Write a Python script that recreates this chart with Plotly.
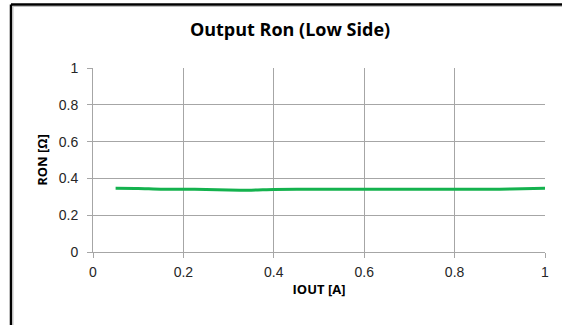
import plotly.graph_objects as go

iout = [0.05, 0.1, 0.15, 0.2, 0.25, 0.3, 0.35, 0.4, 0.5, 0.6, 0.7, 0.8, 0.9, 0.95, 1.0]
ron = [0.346, 0.345, 0.341, 0.341, 0.340, 0.337, 0.336, 0.340, 0.341, 0.341, 0.341, 0.341, 0.341, 0.344, 0.347]
x_ticks = [0, 0.2, 0.4, 0.6, 0.8, 1]
y_ticks = [0, 0.2, 0.4, 0.6, 0.8, 1]

W, H = 562, 325
L, R, T, B = 93, 17, 68, 73
pw, ph = W - L - R, H - T - B

fig = go.Figure()
fig.add_trace(go.Scatter(x=iout, y=ron, mode="lines",
                         line=dict(color="#14B24E", width=3, shape="spline", smoothing=0.6),
                         showlegend=False, hoverinfo="skip"))

grid = "#A6A6A6"
axis_common = dict(showgrid=True, gridcolor=grid, gridwidth=1, showline=True, linecolor=grid,
                   linewidth=1, ticks="outside", ticklen=5, tickcolor=grid, zeroline=False,
                   tickfont=dict(family="Liberation Sans, Arial", size=14, color="#262626"),
                   mirror=False)

fig.update_layout(
    width=W, height=H,
    margin=dict(l=L, r=R, t=T, b=B),
    paper_bgcolor="white", plot_bgcolor="white",
    title=dict(text="<b>Output Ron (Low Side)</b>", x=290 / W, xanchor="center",
               y=1 - 30 / H, yanchor="middle",
               font=dict(family="Open Sans, Liberation Sans", size=18, color="#000000")),
    xaxis=dict(range=[0, 1], tickvals=x_ticks, ticktext=[f"{v:g}" for v in x_ticks],
               ticklabelstandoff=2,
               title=dict(text="<b>IOUT [A]</b>", standoff=6,
                          font=dict(family="Open Sans, Liberation Sans", size=13, color="#000000")),
               **axis_common),
    yaxis=dict(range=[0, 1], tickvals=y_ticks, ticktext=[f"{v:g}" for v in y_ticks],
               ticklabelstandoff=6,
               title=dict(text="<b>RON [Ω]</b>", standoff=8,
                          font=dict(family="Open Sans, Liberation Sans", size=13, color="#000000")),
               **axis_common),
)

# outer chart frame (left and top edges visible)
fx = (11 - L) / pw
fy = 1 + (T - 4.5) / ph
fy_bot = -(B + 5) / ph
fx_right = 1 + (R + 5) / pw
fig.add_shape(type="line", xref="paper", yref="paper", x0=fx, x1=fx, y0=fy_bot, y1=fy,
              line=dict(color="#000000", width=2.5))
fig.add_shape(type="line", xref="paper", yref="paper", x0=fx, x1=fx_right, y0=fy, y1=fy,
              line=dict(color="#000000", width=2.5))
fig.add_shape(type="line", xref="paper", yref="paper", x0=fx + 2 / pw, x1=fx + 2 / pw,
              y0=fy_bot, y1=fy - 2 / ph, line=dict(color="#BFBFBF", width=1))
fig.add_shape(type="line", xref="paper", yref="paper", x0=fx + 2 / pw, x1=fx_right,
              y0=fy - 2 / ph, y1=fy - 2 / ph, line=dict(color="#BFBFBF", width=1))

fig.write_html("out.html", config={"displayModeBar": False, "staticPlot": True},
               post_script="document.body.style.margin='0';document.body.style.overflow='hidden';")
